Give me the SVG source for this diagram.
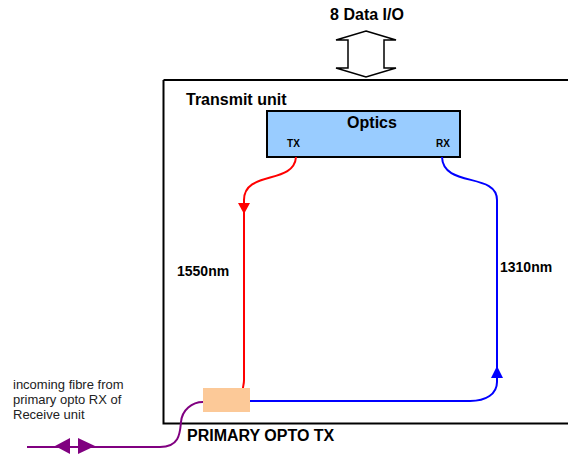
<svg xmlns="http://www.w3.org/2000/svg" width="568" height="454" viewBox="0 0 568 454">
<style>
.b{font-family:"Liberation Sans",Arial,sans-serif;font-weight:bold;fill:#000}
.n{font-family:"Liberation Sans",Arial,sans-serif;fill:#222}
</style>
<rect width="568" height="454" fill="#fff"/>
<g id="transmit-unit">
<path d="M163.5,80 H570 M163.5,80 V423.5 H570" fill="none" stroke="#000" stroke-width="2"/>
<text class="b" x="186" y="105" font-size="16">Transmit unit</text>
</g>
<g id="data-io">
<path d="M366,31 L396,40 L384,40 L384,68 L396,68 L366,77 L336,68 L348,68 L348,40 L336,40 Z" fill="#fff" stroke="#000" stroke-width="1.5"/>
<text class="b" x="367" y="20" font-size="16" text-anchor="middle">8 Data I/O</text>
</g>
<g id="optics">
<rect x="267" y="111" width="193" height="46" fill="#99ccff" stroke="#000" stroke-width="2"/>
<text class="b" x="372" y="128" font-size="16" text-anchor="middle">Optics</text>
<text class="b" x="293.5" y="147" font-size="10" text-anchor="middle">TX</text>
<text class="b" x="443" y="147" font-size="10" text-anchor="middle">RX</text>
</g>
<g id="primary-opto-tx">
<rect x="203" y="388" width="47" height="24" fill="#fcc998"/>
<text class="b" x="187" y="441" font-size="16">PRIMARY OPTO TX</text>
</g>
<g id="connectors">
<path d="M296,157 C294,185 244,170 244,200 V380 C244,384 243,386 243,388" fill="none" stroke="#f00" stroke-width="2"/>
<path d="M238,203 L250,203 L244,214 Z" fill="#f00"/>
<path d="M442,157 C443,188 497,172 497,200 V382 C497,394 486,401 470,401 H250" fill="none" stroke="#00f" stroke-width="2"/>
<path d="M491,378 L503,378 L497,366 Z" fill="#00f"/>
<path d="M27,447 H160 C180,447 180,432 181,422 C182,410 192,402 203,402" fill="none" stroke="#800080" stroke-width="2"/>
<path d="M70,438 L70,454 L55,446 Z" fill="#800080"/>
<path d="M78,438 L78,454 L95,446 Z" fill="#800080"/>
</g>
<g id="labels">
<text class="b" x="177" y="276" font-size="14">1550nm</text>
<text class="b" x="500" y="272" font-size="14">1310nm</text>
<text class="n" x="13" y="389" font-size="13">incoming fibre from</text>
<text class="n" x="13" y="404" font-size="13">primary opto RX of</text>
<text class="n" x="13" y="419" font-size="13">Receive unit</text>
</g>
</svg>
